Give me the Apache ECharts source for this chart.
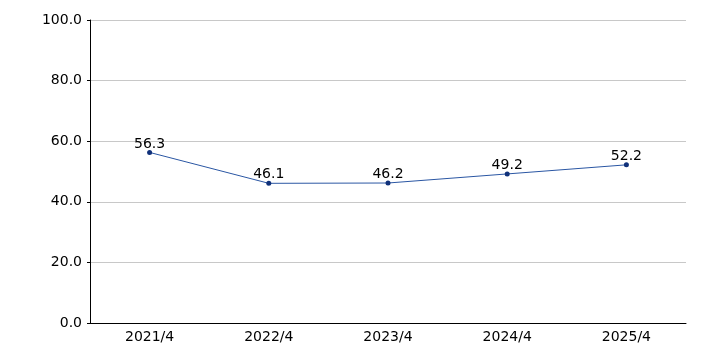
<!DOCTYPE html>
<html>
<head>
<meta charset="utf-8">
<script src="https://cdn.jsdelivr.net/npm/echarts@6/dist/echarts.min.js"></script>
<style>
  html, body { margin: 0; padding: 0; background: #fff; }
  #chart { width: 706px; height: 353px; }
</style>
</head>
<body>
<div id="chart"></div>
<script>
// data
var categories = ['2021/4', '2022/4', '2023/4', '2024/4', '2025/4'];
var values = [56.3, 46.1, 46.2, 49.2, 52.2];

var chart = echarts.init(document.getElementById('chart'));
var font = 'Verdana, "DejaVu Sans", sans-serif';

var option = {
    animation: false,
    grid: { left: 90, right: 20, top: 20, bottom: 30 },
    xAxis: {
        type: 'category',
        data: categories,
        boundaryGap: true,
        axisLine: { lineStyle: { color: '#000', width: 1 } },
        axisTick: { alignWithLabel: true, length: 5, lineStyle: { color: '#000' } },
        axisLabel: { color: '#000', fontSize: 14, fontFamily: font, margin: 7 }
    },
    yAxis: {
        type: 'value',
        min: 0,
        max: 100,
        interval: 20,
        axisLine: { show: true, lineStyle: { color: '#000', width: 1 } },
        axisTick: { show: true, length: 3, lineStyle: { color: '#000' } },
        axisLabel: {
            color: '#000', fontSize: 14, fontFamily: font, margin: 8,
            formatter: function (v) { return v.toFixed(1); }
        },
        splitLine: { lineStyle: { color: '#c8c8c8' } }
    },
    series: [
        {
            type: 'line',
            data: values,
            symbol: 'circle',
            symbolSize: 5,
            lineStyle: { color: '#2a56a3', width: 1 },
            itemStyle: { color: '#10317a' },
            label: {
                show: true,
                position: 'top',
                distance: -1,
                color: '#000',
                fontSize: 14,
                fontFamily: font,
                formatter: function (p) { return p.value.toFixed(1); }
            }
        }
    ]
};
chart.setOption(option);
</script>
</body>
</html>
